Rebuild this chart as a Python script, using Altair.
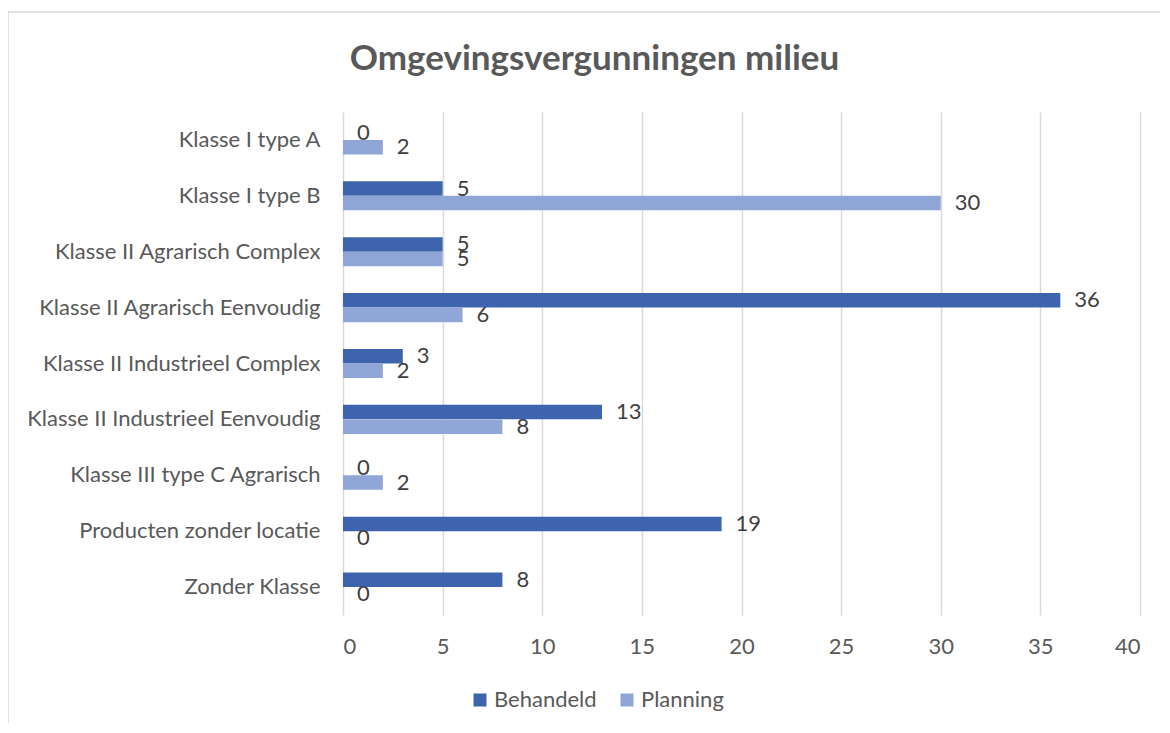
import altair as alt
import pandas as pd

categories = [
    "Klasse I type A",
    "Klasse I type B",
    "Klasse II Agrarisch Complex",
    "Klasse II Agrarisch Eenvoudig",
    "Klasse II Industrieel Complex",
    "Klasse II Industrieel Eenvoudig",
    "Klasse III type C Agrarisch",
    "Producten zonder locatie",
    "Zonder Klasse",
]
behandeld = [0, 5, 5, 36, 3, 13, 0, 19, 8]
planning = [2, 30, 5, 6, 2, 8, 2, 0, 0]
series_names = ["Behandeld", "Planning"]
series_colors = ["#3E64AD", "#8FA6D7"]
x_ticks = [0, 5, 10, 15, 20, 25, 30, 35, 40]

rows = []
for c, b, p in zip(categories, behandeld, planning):
    rows.append({"cat": c, "serie": "Behandeld", "val": b})
    rows.append({"cat": c, "serie": "Planning", "val": p})
df = pd.DataFrame(rows)

FONT = "Lato"
GRAY = "#595959"

W, H = 797, 503

y_enc = alt.Y("cat:N", sort=categories, title=None,
              scale=alt.Scale(paddingInner=0.48, paddingOuter=0.24),
              axis=alt.Axis(labelFontSize=22, labelColor=GRAY, labelFont=FONT,
                            ticks=False, domain=False, labelPadding=23,
                            labelLimit=400))
yoff = alt.YOffset("serie:N", sort=series_names)
x_enc = alt.X("val:Q", title=None,
              scale=alt.Scale(domain=[0, 40], nice=False),
              axis=alt.Axis(values=x_ticks, labelFontSize=22, labelColor=GRAY,
                            labelFont=FONT, ticks=False, domain=False,
                            grid=True, gridColor="#D9D9D9", gridWidth=1.5,
                            labelPadding=21))

bars = alt.Chart(df).mark_bar(size=14.5).encode(
    y=y_enc,
    yOffset=yoff,
    x=x_enc,
    color=alt.Color("serie:N", sort=series_names,
                    scale=alt.Scale(domain=series_names, range=series_colors),
                    legend=alt.Legend(title=None, orient="none", direction="horizontal",
                                      legendX=126, legendY=577,
                                      symbolType="square", symbolSize=169,
                                      symbolStrokeWidth=0,
                                      labelFontSize=22, labelColor=GRAY,
                                      labelFont=FONT, labelOffset=3,
                                      columnPadding=19)),
)

labels = alt.Chart(df).mark_text(align="left", baseline="middle", dx=14,
                                 fontSize=22, font=FONT, color="#404040").encode(
    y=alt.Y("cat:N", sort=categories),
    yOffset=yoff,
    x="val:Q",
    text="val:Q",
)

border = alt.Chart(pd.DataFrame({"a": [0]})).mark_rect(
    fill=None, stroke="#D9D9D9", strokeWidth=1.5, clip=False
).encode(
    x=alt.value(-335), x2=alt.value(840),
    y=alt.value(-100), y2=alt.value(640),
)

chart = alt.layer(border, bars, labels).properties(
    width=W, height=H,
    title=alt.Title("Omgevingsvergunningen milieu", fontSize=35, font=FONT,
                    fontWeight="bold", color=GRAY, anchor="middle",
                    dx=-147, offset=-66),
    autosize=alt.AutoSizeParams(type="none"),
    padding={"left": 335, "top": 104, "right": 20, "bottom": 108},
).configure_view(stroke=None)

chart.save("out.html", embed_options={"renderer": "svg", "actions": False})
